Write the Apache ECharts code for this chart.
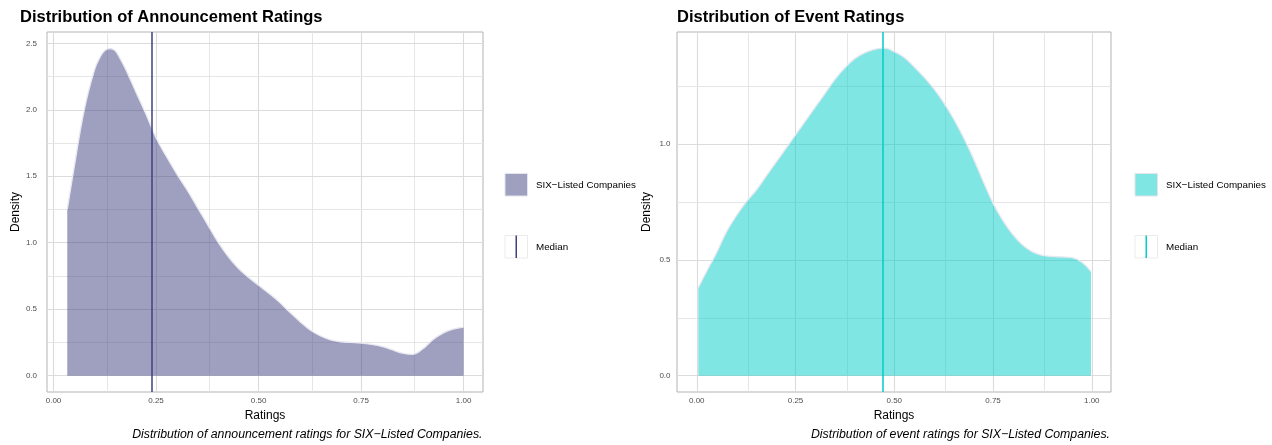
<!DOCTYPE html>
<html><head><meta charset="utf-8">
<script src="https://cdn.jsdelivr.net/npm/echarts@6/dist/echarts.min.js"></script>
<style>html,body{margin:0;padding:0;background:#fff}#c{width:1272px;height:445px}</style>
</head><body><div id="c"></div>
<script>
// ---- data ----
const annX = [0.0335,0.05,0.075,0.1,0.1125,0.125,0.1375,0.15,0.1625,0.175,0.2,0.225,0.25,0.275,0.3,0.325,0.35,0.375,0.4,0.425,0.45,0.475,0.5,0.525,0.55,0.575,0.6,0.625,0.65,0.675,0.7,0.725,0.75,0.775,0.8,0.825,0.85,0.875,0.9,0.925,0.95,0.975,1.0];
const annY = [1.25,1.56,2.00,2.30,2.39,2.445,2.46,2.445,2.385,2.31,2.14,1.97,1.79,1.65,1.52,1.40,1.27,1.14,1.01,0.90,0.81,0.74,0.68,0.62,0.555,0.48,0.41,0.345,0.30,0.27,0.255,0.25,0.245,0.235,0.22,0.195,0.17,0.16,0.20,0.27,0.32,0.35,0.365];
const evtX = [0.004,0.025,0.05,0.075,0.1,0.125,0.15,0.175,0.2,0.225,0.25,0.275,0.3,0.325,0.35,0.375,0.4,0.425,0.45,0.475,0.5,0.525,0.55,0.575,0.6,0.625,0.65,0.675,0.7,0.725,0.75,0.775,0.8,0.825,0.85,0.875,0.9,0.925,0.95,0.975,0.998];
const evtY = [0.38,0.45,0.53,0.62,0.69,0.75,0.80,0.86,0.92,0.98,1.04,1.10,1.16,1.22,1.28,1.33,1.37,1.395,1.41,1.415,1.40,1.375,1.335,1.29,1.24,1.18,1.11,1.03,0.94,0.84,0.745,0.67,0.61,0.565,0.535,0.52,0.515,0.513,0.51,0.49,0.45];
const annMedian = 0.238;
const evtMedian = 0.466;
const xTicks = [0,0.25,0.5,0.75,1];
const xMinor = [0.125,0.375,0.625,0.875];
const annYTicks = [0,0.5,1,1.5,2,2.5];
const annYMinor = [0.25,0.75,1.25,1.75,2.25];
const evtYTicks = [0,0.5,1];
const evtYMinor = [0.25,0.75,1.25];
const seriesName = 'SIX\u2212Listed Companies';
const medianName = 'Median';
const titles = ['Distribution of Announcement Ratings','Distribution of Event Ratings'];
const captions = ['Distribution of announcement ratings for SIX\u2212Listed Companies.','Distribution of event ratings for SIX\u2212Listed Companies.'];

// ---- styles ----
const FF = "'Liberation Sans', Arial, Helvetica, sans-serif";
const annColor = '#404080', annFill = 'rgba(64,64,128,0.5)';
const evtColor = '#00CDC9', evtFill = 'rgba(0,205,201,0.5)';
const grids = [
  {left:47, top:32, width:436, height:360},
  {left:677, top:32, width:434, height:360}
];
const zip = (a,b)=>a.map((v,i)=>[v,b[i]]);

function gridLines(xi, yMaj, yMin){
  const maj = {color:'#DBDBDB', width:1.1, type:'solid'};
  const mn = {color:'#E3E3E3', width:0.9, type:'solid'};
  const d = [];
  xTicks.forEach(v=>d.push({xAxis:v, lineStyle:maj}));
  xMinor.forEach(v=>d.push({xAxis:v, lineStyle:mn}));
  yMaj.forEach(v=>d.push({yAxis:v, lineStyle:maj}));
  yMin.forEach(v=>d.push({yAxis:v, lineStyle:mn}));
  return {type:'line', xAxisIndex:xi, yAxisIndex:xi, data:[], z:1, silent:true,
    markLine:{z:1, silent:true, symbol:['none','none'], label:{show:false}, animation:false, emphasis:{disabled:true}, data:d}};
}
function xAxis(i, min, max){
  return {type:'value', gridIndex:i, min:min, max:max,
    name:'Ratings', nameLocation:'middle', nameGap:16,
    nameTextStyle:{fontSize:12, color:'#000', fontFamily:FF},
    axisLine:{show:false}, splitLine:{show:false},
    axisTick:{show:true, length:3.5, customValues:xTicks, lineStyle:{color:'#B3B3B3', width:1}},
    axisLabel:{customValues:xTicks, margin:5, fontSize:8, color:'#4D4D4D', fontFamily:FF, formatter:v=>v.toFixed(2)}};
}
function yAxis(i, min, max, ticks, margin){
  return {type:'value', gridIndex:i, min:min, max:max,
    name:'Density', nameLocation:'middle', nameGap:24,
    nameTextStyle:{fontSize:12, color:'#000', fontFamily:FF},
    axisLine:{show:false}, splitLine:{show:false},
    axisTick:{show:true, length:3.5, customValues:ticks, lineStyle:{color:'#B3B3B3', width:1}},
    axisLabel:{customValues:ticks, margin:margin, fontSize:8, color:'#4D4D4D', fontFamily:FF, formatter:v=>v.toFixed(1)}};
}
function density(i, x, y, color, fill, med){
  return {name:seriesName, type:'line', xAxisIndex:i, yAxisIndex:i, data:zip(x,y), z:2,
    smooth:0.4, showSymbol:false, symbol:'none', silent:true,
    lineStyle:{color:'rgba(232,232,240,1)', width:1.3},
    areaStyle:{color:fill, opacity:1},
    markLine:{z:3, silent:true, symbol:['none','none'], label:{show:false}, animation:false,
      lineStyle:{color:color, width:1.5, type:'solid'}, data:[{xAxis:med}]}};
}
function legend(x, color, fill){
  const t = {fontSize:9.8, fill:'#000', fontFamily:FF};
  return [
    {type:'rect', shape:{x:x, y:173.5, width:22.5, height:22.5}, style:{fill:fill, stroke:'rgba(228,228,236,1)', lineWidth:1}},
    {type:'text', x:x+31, y:185, style:Object.assign({text:seriesName, verticalAlign:'middle'}, t)},
    {type:'rect', shape:{x:x, y:235.5, width:22.5, height:22.5}, style:{fill:'#fff', stroke:'#EBEBEB', lineWidth:1}},
    {type:'line', shape:{x1:x+11.25, y1:235.5, x2:x+11.25, y2:258}, style:{stroke:color, lineWidth:1.5}},
    {type:'text', x:x+31, y:247, style:Object.assign({text:medianName, verticalAlign:'middle'}, t)}
  ];
}

const chart = echarts.init(document.getElementById('c'), null, {renderer:'canvas'});
chart.setOption({
  animation:false,
  backgroundColor:'#fff',
  title:[
    {text:titles[0], left:20, top:8.5, padding:0, textStyle:{fontSize:16.5, fontWeight:'bold', color:'#000', fontFamily:FF}},
    {text:titles[1], left:677, top:8.5, padding:0, textStyle:{fontSize:16.5, fontWeight:'bold', color:'#000', fontFamily:FF}},
    {text:captions[0], right:789.5, top:428.5, padding:0, textStyle:{fontSize:12.3, fontStyle:'italic', fontWeight:'normal', color:'#000', fontFamily:FF}},
    {text:captions[1], right:162, top:428.5, padding:0, textStyle:{fontSize:12.3, fontStyle:'italic', fontWeight:'normal', color:'#000', fontFamily:FF}}
  ],
  grid: grids.map(g=>Object.assign({show:true, borderColor:'#B3B3B3', borderWidth:1, backgroundColor:'#fff', containLabel:false}, g)),
  xAxis:[xAxis(0,-0.0159,1.0474), xAxis(1,-0.05,1.0487)],
  yAxis:[yAxis(0,-0.123,2.585,annYTicks,10), yAxis(1,-0.0707,1.485,evtYTicks,6.5)],
  series:[
    gridLines(0, annYTicks, annYMinor),
    gridLines(1, evtYTicks, evtYMinor),
    density(0, annX, annY, annColor, annFill, annMedian),
    density(1, evtX, evtY, evtColor, evtFill, evtMedian)
  ],
  graphic: legend(505, annColor, annFill).concat(legend(1135, evtColor, evtFill))
});
</script></body></html>
